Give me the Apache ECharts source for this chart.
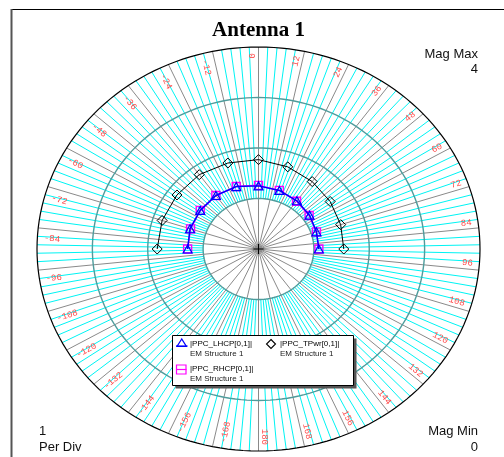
<!DOCTYPE html>
<html>
<head>
<meta charset="utf-8">
<script src="https://cdn.jsdelivr.net/npm/echarts@6/dist/echarts.min.js"></script>
<style>
  html, body { margin: 0; padding: 0; background: #ffffff; }
  #chart { width: 504px; height: 457px; }
</style>
</head>
<body>
<div id="chart"></div>
<script>
// Sweep angles in degrees, clockwise from the top of the polar grid
const sweepAngles = [-90, -72, -54, -36, -18, 0, 18, 36, 54, 72, 90];
// Magnitudes per sweep angle
const lhcpMag = [1.28, 1.30, 1.30, 1.31, 1.30, 1.25, 1.22, 1.18, 1.14, 1.10, 1.09];
const rhcpMag = [1.28, 1.29, 1.30, 1.31, 1.30, 1.26, 1.22, 1.17, 1.13, 1.10, 1.09];
const tpwrMag = [1.83, 1.83, 1.82, 1.82, 1.79, 1.77, 1.71, 1.65, 1.60, 1.56, 1.54];

const seriesNames = ['|PPC_LHCP[0,1]|', '|PPC_RHCP[0,1]|', '|PPC_TPwr[0,1]|'];
const sourceName = 'EM Structure 1';
const chartTitle = 'Antenna 1';

// Magnitude grid
const magMax = 4;
const magMin = 0;
const perDiv = 1;
const magRings = [1, 2, 3, 4];

// Angle grid: labelled spokes every 12 deg, fine spokes every 2.4 deg
const angleLabels = [0, 12, 24, 36, 48, 60, 72, 84, 96, 108, 120, 132, 144, 156, 168, 180,
                     -168, -156, -144, -132, -120, -108, -96, -84, -72, -60, -48, -36, -24, -12];
const majorStep = 12;
const minorStep = 2.4;

const majorSpokes = [];
for (let a = -168; a <= 180; a += majorStep) majorSpokes.push([a, 0]);
const minorSpokes = [];
for (let k = 0; k < 360 / minorStep; k++) {
  const a = k * minorStep;
  if (Math.abs(a / majorStep - Math.round(a / majorStep)) > 1e-6) minorSpokes.push([a, 0]);
}

// polar (magnitude, angle from top, clockwise) -> x/y value space
function toXY(mag, deg) {
  const r = deg * Math.PI / 180;
  return [mag * Math.sin(r), mag * Math.cos(r)];
}

function spokeRenderer(rInner, color, width) {
  return function (params, api) {
    const a = api.value(0);
    const p0 = api.coord(toXY(rInner, a));
    const p1 = api.coord(toXY(magMax, a));
    return {
      type: 'line',
      shape: { x1: p0[0], y1: p0[1], x2: p1[0], y2: p1[1] },
      style: { stroke: color, lineWidth: width }
    };
  };
}

function ringRenderer(params, api) {
  const m = api.value(0);
  const pts = [];
  for (let k = 0; k <= 360; k += 2) pts.push(api.coord(toXY(m, k)));
  const outer = m === magMax;
  return {
    type: 'polyline',
    shape: { points: pts },
    style: { fill: 'none', stroke: outer ? '#000000' : '#4f9c9c', lineWidth: outer ? 1.2 : 1.4 }
  };
}

function labelRenderer(params, api) {
  const a = api.value(0);
  const c = api.coord([0, 0]);
  const pe = api.coord(toXY(3.88, a));
  let ux = pe[0] - c[0], uy = pe[1] - c[1];
  const L = Math.hypot(ux, uy); ux /= L; uy /= L;
  // normal pointing toward decreasing angle
  const nx = uy, ny = -ux;
  const right = a >= 0;
  const off = right ? 6 : 9.5;
  let rot = Math.atan2(-uy, ux);
  if (!right) rot += Math.PI;
  return {
    type: 'text',
    x: pe[0] + nx * off,
    y: pe[1] + ny * off,
    rotation: rot,
    style: {
      text: String(a),
      fill: '#ff4a4a',
      font: '9px "Liberation Mono", monospace',
      align: right ? 'right' : 'left',
      verticalAlign: 'middle'
    }
  };
}

function centerRenderer(params, api) {
  const c = api.coord([0, 0]);
  return {
    type: 'group',
    children: [
      { type: 'line', shape: { x1: c[0] - 5, y1: c[1], x2: c[0] + 5, y2: c[1] }, style: { stroke: '#000', lineWidth: 1 } },
      { type: 'line', shape: { x1: c[0], y1: c[1] - 5, x2: c[0], y2: c[1] + 5 }, style: { stroke: '#000', lineWidth: 1 } }
    ]
  };
}

const chart = echarts.init(document.getElementById('chart'), null, { renderer: 'canvas' });

const sansFont = '"Liberation Sans", Arial, sans-serif';

const legendX = 172, legendY = 335, legendW = 181, legendH = 50;

const option = {
  animation: false,
  backgroundColor: '#ffffff',
  grid: { left: 37, top: 47, width: 443, height: 404 },
  xAxis: { type: 'value', min: -magMax, max: magMax, show: false },
  yAxis: { type: 'value', min: -magMax, max: magMax, show: false },
  series: [
    { type: 'custom', clip: false, z: 1, silent: true, data: minorSpokes,
      renderItem: spokeRenderer(1, '#00f4f4', 1) },
    { type: 'custom', clip: false, z: 2, silent: true, data: majorSpokes,
      renderItem: spokeRenderer(0, '#8a8a8a', 1) },
    { type: 'custom', clip: false, z: 3, silent: true, data: magRings.map(m => [m, 0]),
      renderItem: ringRenderer },
    { type: 'custom', clip: false, z: 3, silent: true, data: angleLabels.map(a => [a, 0]),
      renderItem: labelRenderer },
    { type: 'custom', clip: false, z: 3, silent: true, data: [[0, 0]],
      renderItem: centerRenderer },
    {
      name: seriesNames[1], type: 'line', z: 4,
      data: sweepAngles.map((a, i) => toXY(rhcpMag[i], a)),
      symbol: 'rect', symbolSize: 8, showAllSymbol: true,
      lineStyle: { color: '#ff00ff', width: 1.5 },
      itemStyle: { color: 'rgba(255,255,255,0)', borderColor: '#ff00ff', borderWidth: 1.4 }
    },
    {
      name: seriesNames[0], type: 'line', z: 5,
      data: sweepAngles.map((a, i) => toXY(lhcpMag[i], a)),
      symbol: 'triangle', symbolSize: [9, 8], showAllSymbol: true,
      lineStyle: { color: '#0000ff', width: 1.5 },
      itemStyle: { color: 'rgba(255,255,255,0)', borderColor: '#0000ff', borderWidth: 1.2 }
    },
    {
      name: seriesNames[2], type: 'line', z: 5,
      data: sweepAngles.map((a, i) => toXY(tpwrMag[i], a)),
      symbol: 'diamond', symbolSize: 10, showAllSymbol: true,
      lineStyle: { color: '#000000', width: 1 },
      itemStyle: { color: 'rgba(255,255,255,0)', borderColor: '#000000', borderWidth: 1 }
    }
  ],
  graphic: [
    // frame
    { type: 'line', shape: { x1: 11, y1: 9.5, x2: 504, y2: 9.5 }, style: { stroke: '#000', lineWidth: 1 } },
    { type: 'line', shape: { x1: 11.5, y1: 9, x2: 11.5, y2: 457 }, style: { stroke: '#555', lineWidth: 2 } },
    // title
    { type: 'text', x: 258.5, y: 31, style: { text: chartTitle, font: 'bold 21px "Liberation Serif", "Times New Roman", serif', fill: '#000', align: 'center', verticalAlign: 'middle' } },
    // magnitude annotations
    { type: 'text', x: 478, y: 54, style: { text: 'Mag Max', font: '13px ' + sansFont, fill: '#111', align: 'right', verticalAlign: 'middle' } },
    { type: 'text', x: 478, y: 69, style: { text: String(magMax), font: '13px ' + sansFont, fill: '#111', align: 'right', verticalAlign: 'middle' } },
    { type: 'text', x: 39, y: 431, style: { text: String(perDiv), font: '13px ' + sansFont, fill: '#111', align: 'left', verticalAlign: 'middle' } },
    { type: 'text', x: 39, y: 447, style: { text: 'Per Div', font: '13px ' + sansFont, fill: '#111', align: 'left', verticalAlign: 'middle' } },
    { type: 'text', x: 478, y: 431, style: { text: 'Mag Min', font: '13px ' + sansFont, fill: '#111', align: 'right', verticalAlign: 'middle' } },
    { type: 'text', x: 478, y: 447, style: { text: String(magMin), font: '13px ' + sansFont, fill: '#111', align: 'right', verticalAlign: 'middle' } },
    // legend box with drop shadow
    { type: 'rect', z: 10, shape: { x: legendX + 3.5, y: legendY + 3.5, width: legendW, height: legendH }, style: { fill: '#555' } },
    { type: 'rect', z: 11, shape: { x: legendX + 0.5, y: legendY + 0.5, width: legendW, height: legendH }, style: { fill: '#fff', stroke: '#000', lineWidth: 1 } },
    // LHCP entry
    { type: 'line', z: 12, shape: { x1: 176, y1: 346, x2: 187.5, y2: 346 }, style: { stroke: '#0000ff', lineWidth: 1.2 } },
    { type: 'polygon', z: 12, shape: { points: [[181.7, 339], [177, 346.5], [186.4, 346.5]] }, style: { fill: 'none', stroke: '#0000ff', lineWidth: 1.2 } },
    { type: 'text', z: 12, x: 190, y: 344, style: { text: seriesNames[0], font: '8px ' + sansFont, fill: '#000', verticalAlign: 'middle' } },
    { type: 'text', z: 12, x: 190, y: 354, style: { text: sourceName, font: '8px ' + sansFont, fill: '#222', verticalAlign: 'middle' } },
    // TPwr entry
    { type: 'polygon', z: 12, shape: { points: [[271, 339.5], [275.5, 344], [271, 348.5], [266.5, 344]] }, style: { fill: 'none', stroke: '#000', lineWidth: 1.1 } },
    { type: 'text', z: 12, x: 280, y: 344, style: { text: seriesNames[2], font: '8px ' + sansFont, fill: '#000', verticalAlign: 'middle' } },
    { type: 'text', z: 12, x: 280, y: 354, style: { text: sourceName, font: '8px ' + sansFont, fill: '#222', verticalAlign: 'middle' } },
    // RHCP entry
    { type: 'rect', z: 12, shape: { x: 176.5, y: 365, width: 9.5, height: 9 }, style: { fill: 'none', stroke: '#ff00ff', lineWidth: 1.2 } },
    { type: 'line', z: 12, shape: { x1: 176, y1: 369.5, x2: 186.5, y2: 369.5 }, style: { stroke: '#ff00ff', lineWidth: 1.2 } },
    { type: 'text', z: 12, x: 190, y: 369, style: { text: seriesNames[1], font: '8px ' + sansFont, fill: '#000', verticalAlign: 'middle' } },
    { type: 'text', z: 12, x: 190, y: 378.5, style: { text: sourceName, font: '8px ' + sansFont, fill: '#222', verticalAlign: 'middle' } }
  ]
};

chart.setOption(option);
</script>
</body>
</html>
